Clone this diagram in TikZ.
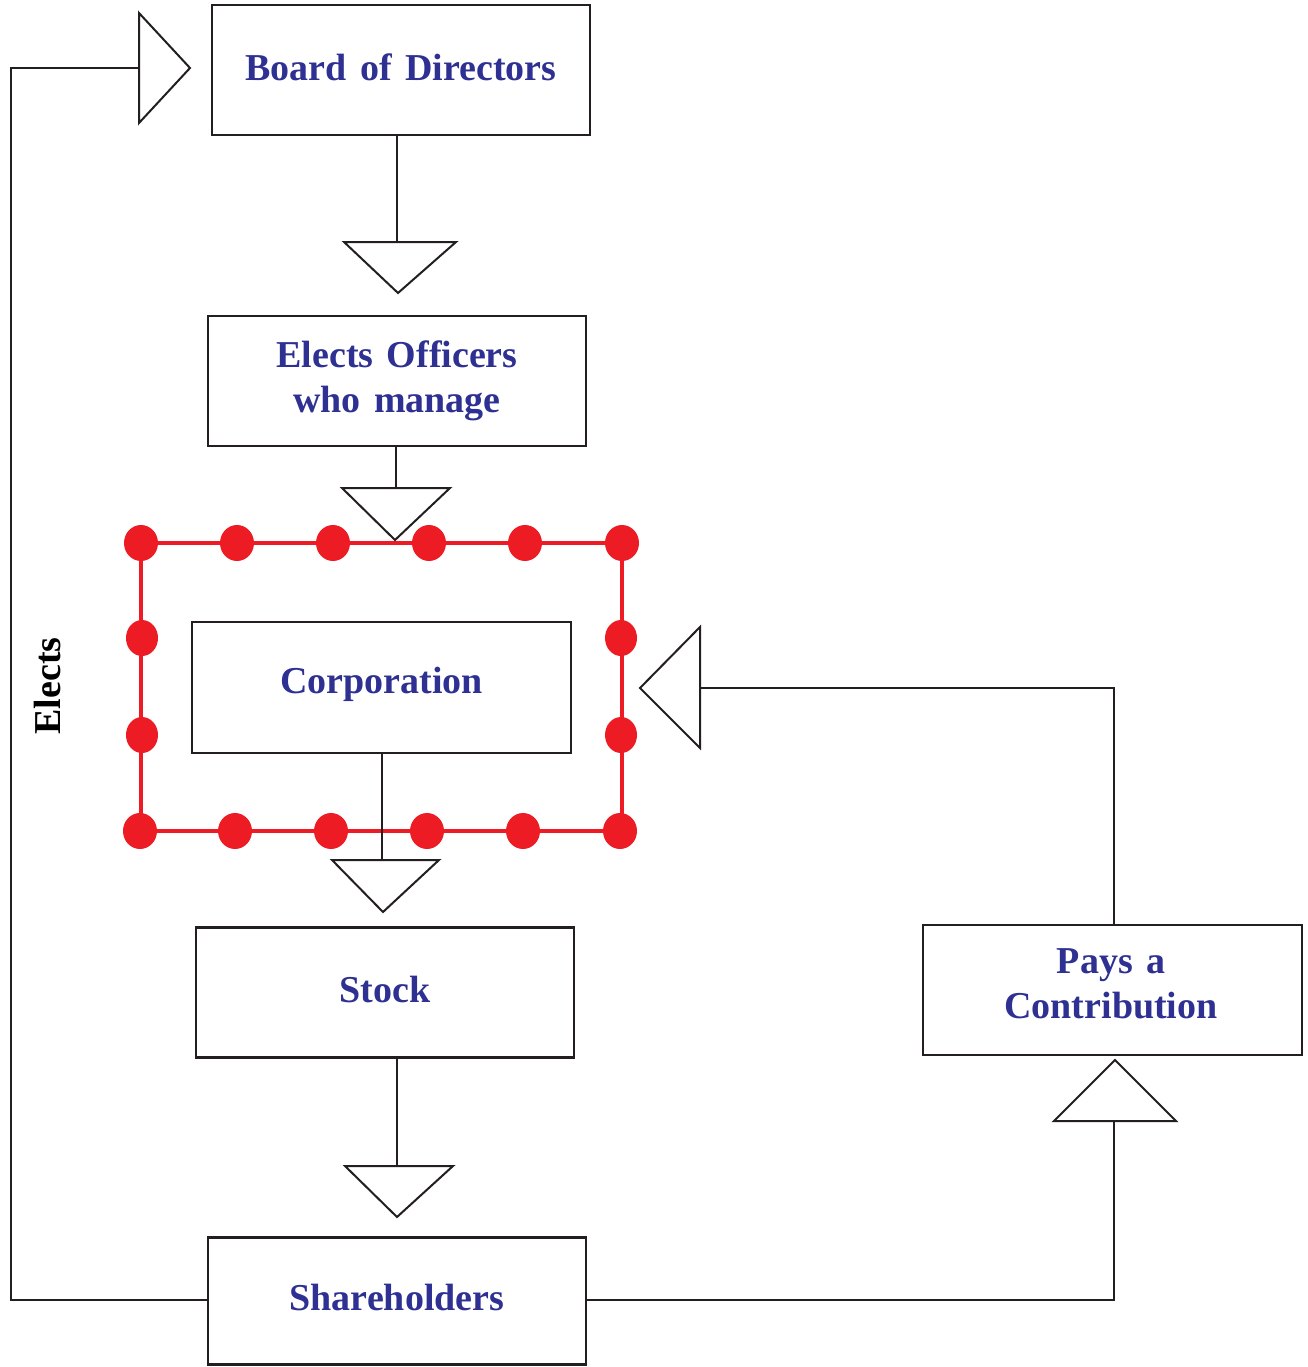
\documentclass[tikz,border=0pt]{standalone}
\usepackage{fontspec}
\setmainfont{Liberation Serif}
\definecolor{txtblue}{RGB}{46,49,146}
\definecolor{dotred}{RGB}{237,28,36}
\definecolor{ink}{RGB}{35,31,32}
\begin{document}
\begin{tikzpicture}[x=1pt,y=-1pt,
  box/.style={draw=ink, line width=2.2pt, minimum width=378pt, minimum height=130pt, inner sep=0pt},
  boxtext/.style={inner sep=0pt, font=\fontsize{38}{45}\selectfont\bfseries, text=txtblue, align=center},
  conn/.style={draw=ink, line width=2pt},
  tri/.style={draw=ink, line width=2pt, fill=white, line join=miter},
  frameline/.style={draw=dotred, line width=4pt},
  dotmark/.style={fill=dotred}]
\useasboundingbox (0,0) rectangle (1307,1367);

% boxes
\node[box] (board) at (401,70) {};
\node[boxtext] (boardtxt) at (401,67) {Board\hspace{0.35em}of\hspace{0.35em}Directors};
\node[box] (officers) at (397,381) {};
\node[boxtext] (officerstxt) at (397,381) {Elects\hspace{0.35em}Officers\\who\hspace{0.35em}manage};
\node[box, minimum width=379pt, minimum height=131pt] (corp) at (381.5,687.5) {};
\node[boxtext] (corptxt) at (381.5,684) {Corporation};
\node[box] (stock) at (385,992.5) {};
\node[boxtext] (stocktxt) at (385,989) {Stock};
\node[box, minimum height=127pt] (share) at (397,1301) {};
\node[boxtext] (sharetxt) at (397,1297) {Shareholders};
\node[box, minimum width=379pt] (pays) at (1112.5,990) {};
\node[boxtext] (paystxt) at (1111,984) {Pays\hspace{0.35em}a\\Contribution};

\node[rotate=90, font=\fontsize{38}{45}\selectfont\bfseries, text=black] (elects) at (48,686) {Elects};

% connector end points (triangle bases)
\coordinate (tb) at (139,68);
\coordinate (t1) at (397,242);
\coordinate (t2) at (396,488);
\coordinate (t3) at (382,860);
\coordinate (t4) at (397,1166);
\coordinate (t5) at (700,688);
\coordinate (t6) at (1114,1121);
\coordinate (lc) at (11,1300);

% connectors
\draw[conn] (share.west |- lc) -- (lc) |- (tb);
\draw[conn] (board.south -| t1) -- (t1);
\draw[conn] (officers.south -| t2) -- (t2);
\draw[conn] (stock.south -| t4) -- (t4);
\draw[conn] (share.east |- lc) -| (t6);
\draw[conn] (pays.north -| t6) |- (t5);

% red dotted frame
\draw[frameline] (141,543) -- (622,543) -- (622,831) -- (141,831) -- cycle;
\foreach \x in {141,237,333,429,525,622} \fill[dotmark] (\x,543) ellipse [x radius=17pt, y radius=18pt];
\foreach \x in {140,235,331,427,523,620} \fill[dotmark] (\x,831) ellipse [x radius=17pt, y radius=18pt];
\foreach \y in {638,735} {\fill[dotmark] (142,\y) ellipse [x radius=16pt, y radius=18pt];
  \fill[dotmark] (621,\y) ellipse [x radius=16pt, y radius=18pt];}

% corporation connector (over the frame)
\draw[conn] (corp.south -| t3) -- (t3);

% triangles
\draw[tri] (tb) ++(0,-55) -- ++(0,110) -- (190,68) -- cycle;
\draw[tri] (t1) ++(-53,0) -- ++(112,0) -- (398,293) -- cycle;
\draw[tri] (t2) ++(-54,0) -- ++(108,0) -- (395,540) -- cycle;
\draw[tri] (t3) ++(-50,0) -- ++(107,0) -- (383,912) -- cycle;
\draw[tri] (t4) ++(-52,0) -- ++(108,0) -- (397,1217) -- cycle;
\draw[tri] (t5) ++(0,-61) -- ++(0,121) -- (640,688) -- cycle;
\draw[tri] (t6) ++(-60,0) -- ++(122,0) -- (1115,1060) -- cycle;
\end{tikzpicture}
\end{document}
